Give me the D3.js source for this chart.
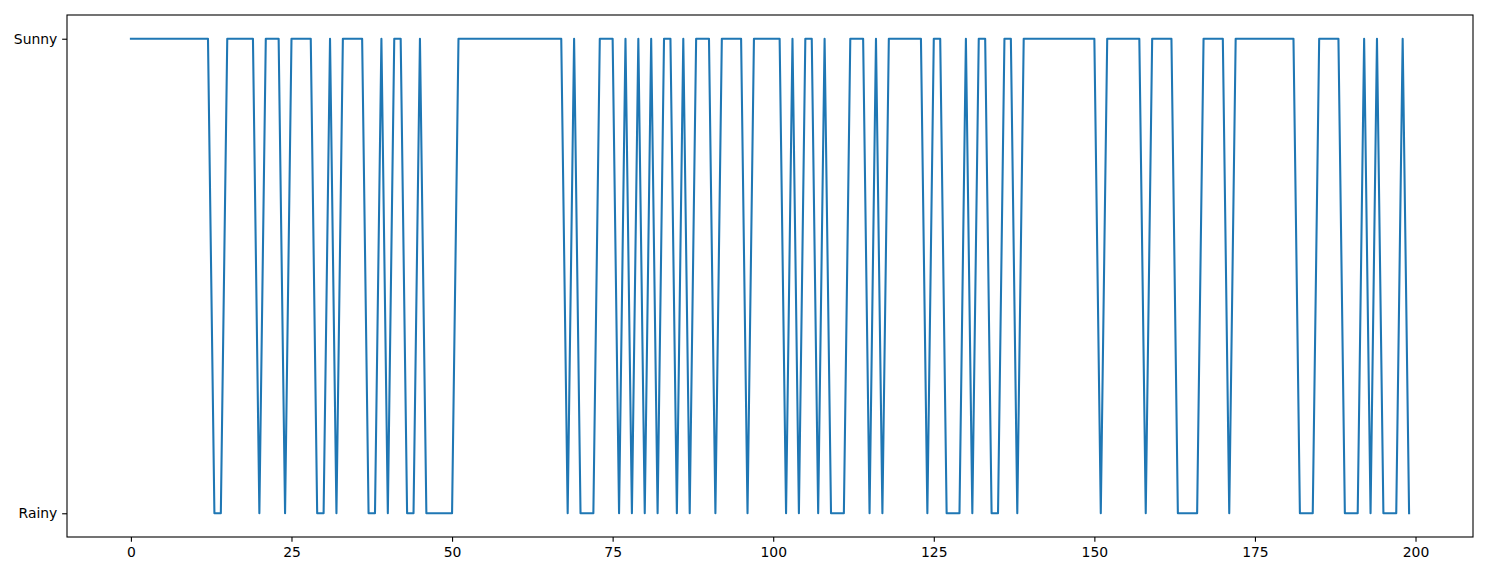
<!DOCTYPE html>
<html>
<head>
<meta charset="utf-8">
<script src="https://cdn.jsdelivr.net/npm/d3@7/dist/d3.min.js"></script>
<style>
  html, body { margin: 0; padding: 0; background: #fff; }
  svg { display: block; }
  text { font-family: "DejaVu Sans", sans-serif; }
</style>
</head>
<body>
<svg id="chart" width="1490" height="575"></svg>
<script>
// Weather categories (bottom to top)
const categories = ["Rainy", "Sunny"];
// Observed weather per day (S = Sunny, R = Rainy), days 0..199, read in groups of ten
const weatherCodes = [
  "SSSSSSSSSS", "SSSRRSSSSS", "RSSSRSSSSR", "RSRSSSSRRS", "RSSRRSRRRR",
  "RSSSSSSSSS", "SSSSSSSSRS", "RRRSSSRSRS", "RSRSSRSRSS", "SRSSSSRSSS",
  "SSRSRSSRSR", "RRSSSRSRSS", "SSSSRSSRRR", "SRSSRRSSRS", "SSSSSSSSSS",
  "SRSSSSSSRS", "SSSRRRRSSS", "SRSSSSSSSS", "SSRRRSSSSR", "RRSRSRRRSR"
];
const codeNames = { S: "Sunny", R: "Rainy" };
const xTicks = [0, 25, 50, 75, 100, 125, 150, 175, 200];

const weather = weatherCodes.join("").split("").map(c => codeNames[c]);
const days = weather.map((_, i) => i);
const data = days.map(i => ({ day: i, value: weather[i] }));

const W = 1490, H = 575;
const margin = { left: 67, right: 17, top: 15, bottom: 38 };
const x0 = margin.left, x1 = W - margin.right;
const y0 = margin.top, y1 = H - margin.bottom;

const n = days.length - 1;
const xPad = n * 0.05;
const x = d3.scaleLinear().domain([-xPad, n + xPad]).range([x0, x1]);
const yNum = d3.scaleLinear().domain([-0.05, 1.05]).range([y1, y0]);
const y = v => yNum(categories.indexOf(v));

const svg = d3.select("#chart");

const line = d3.line().x(d => x(d.day)).y(d => y(d.value));
svg.append("path")
  .datum(data)
  .attr("d", line)
  .attr("fill", "none")
  .attr("stroke", "#1f77b4")
  .attr("stroke-width", 2.08)
  .attr("stroke-linejoin", "round")
  .attr("stroke-linecap", "square");

const tickLen = 4.86;
const fs = 13.9;

// x axis
const xAxis = d3.axisBottom(x).tickValues(xTicks).tickSize(tickLen).tickPadding(4.86);
const gx = svg.append("g").attr("transform", `translate(0,${y1})`).call(xAxis);
gx.select(".domain").remove();
gx.selectAll("line").attr("stroke", "#000").attr("stroke-width", 1.1);
gx.selectAll("text").attr("font-size", fs).attr("fill", "#000").attr("font-family", "DejaVu Sans");

// y axis
const yAxis = d3.axisLeft(yNum).tickValues([0, 1]).tickFormat(i => categories[i]).tickSize(tickLen).tickPadding(4.86);
const gy = svg.append("g").attr("transform", `translate(${x0},0)`).call(yAxis);
gy.select(".domain").remove();
gy.selectAll("line").attr("stroke", "#000").attr("stroke-width", 1.1);
gy.selectAll("text").attr("font-size", fs).attr("fill", "#000").attr("font-family", "DejaVu Sans");

// frame (spines)
svg.append("rect")
  .attr("x", x0).attr("y", y0)
  .attr("width", x1 - x0).attr("height", y1 - y0)
  .attr("fill", "none").attr("stroke", "#000").attr("stroke-width", 1.1);
</script>
</body>
</html>
